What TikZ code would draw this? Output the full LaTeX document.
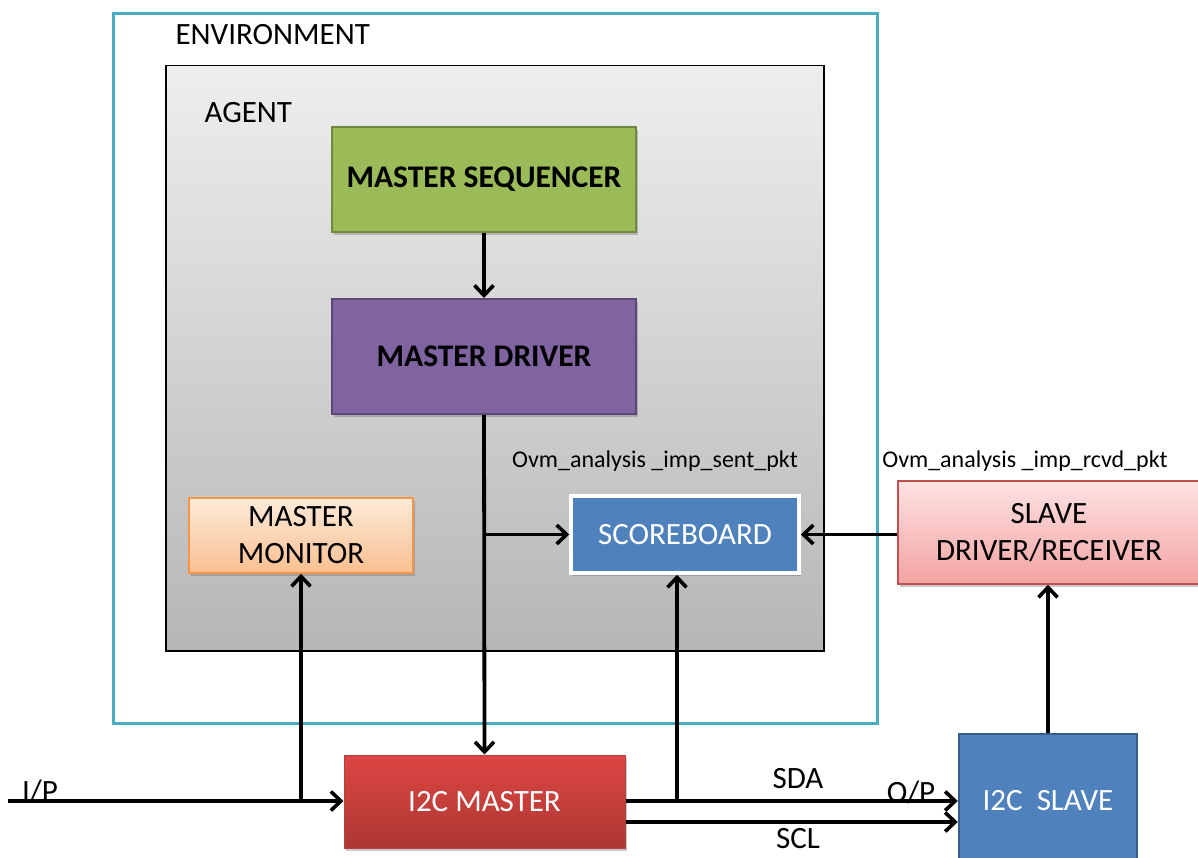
\documentclass[tikz,border=0pt]{standalone}
\usepackage{fontspec}
\setmainfont{Carlito}
\usetikzlibrary{arrows.meta,shadows}

\definecolor{envcyan}{HTML}{4BACC6}
\definecolor{agenttop}{HTML}{EEEEEE}
\definecolor{agentbot}{HTML}{B6B6B6}
\definecolor{seqfill}{HTML}{9BBB59}
\definecolor{seqline}{HTML}{71893E}
\definecolor{drvfill}{HTML}{8064A2}
\definecolor{drvline}{HTML}{5C4776}
\definecolor{montop}{HTML}{FDEADA}
\definecolor{monbot}{HTML}{FAC090}
\definecolor{monline}{HTML}{F79646}
\definecolor{sbfill}{HTML}{4F81BD}
\definecolor{slvtop}{HTML}{FEE2E2}
\definecolor{slvbot}{HTML}{F3A3A3}
\definecolor{slvline}{HTML}{C0504D}
\definecolor{mtop}{HTML}{DC4642}
\definecolor{mbot}{HTML}{AE3733}
\definecolor{mline}{HTML}{B0413E}
\definecolor{s2cline}{HTML}{385D8A}

\tikzset{
  bigtext/.style={font=\fontsize{31}{37}\selectfont},
  boldtext/.style={font=\bfseries\fontsize{31.5}{37}\selectfont},
  smalltext/.style={font=\fontsize{24}{28}\selectfont},
  blockbox/.style={rectangle, inner sep=0pt, align=center},
  shade/.style={drop shadow={shadow xshift=2pt, shadow yshift=-3pt, opacity=0.35, fill=black!60}},
  wire/.style={line width=3.8pt, draw=black},
  arrowed/.style={wire, -{Straight Barb[length=10pt,width=19pt,line width=3.6pt]}},
}

\begin{document}
\begin{tikzpicture}[x=1pt,y=-1pt]
\useasboundingbox (0,0) rectangle (1198,858);

% outer environment and agent frames
\node[blockbox, draw=envcyan, line width=3pt, minimum width=764pt, minimum height=710pt, anchor=north west] (env) at (112,12) {};
\node[blockbox, draw=black, line width=1.5pt, top color=agenttop, bottom color=agentbot, minimum width=658pt, minimum height=585pt, anchor=north west] (agent) at (165,65) {};
\node[bigtext, anchor=west] (envlabel) at (172,35) {ENVIRONMENT};
\node[bigtext, anchor=west] (agentlabel) at (201,113) {AGENT};

% agent components
\node[blockbox, boldtext, fill=seqfill, draw=seqline, line width=2pt, minimum width=304pt, minimum height=105pt, shade] (seq) at (484,179.5) {MASTER SEQUENCER};
\node[blockbox, boldtext, fill=drvfill, draw=drvline, line width=2pt, minimum width=304pt, minimum height=115pt, shade] (drv) at (484,356.5) {MASTER DRIVER};
\node[blockbox, bigtext, top color=montop, bottom color=monbot, draw=monline, line width=1.5pt, minimum width=224pt, minimum height=75pt, shade] (mon) at (301,535.5) {MASTER\\MONITOR};
\node[blockbox, bigtext, text=white, fill=sbfill, draw=white, line width=3.5pt, minimum width=228pt, minimum height=77pt, shade] (sb) at (685,534.5) {SCOREBOARD};

% blocks outside the environment
\node[blockbox, bigtext, top color=slvtop, bottom color=slvbot, draw=slvline, line width=1.5pt, minimum width=302pt, minimum height=103pt, shade] (slv) at (1049,532.5) {SLAVE\\DRIVER/RECEIVER};
\node[blockbox, bigtext, text=white, top color=mtop, bottom color=mbot, draw=mline, line width=1pt, minimum width=281pt, minimum height=93pt, shade] (m2c) at (484.5,801.5) {I2C MASTER};
\node[blockbox, bigtext, text=white, fill=sbfill, draw=s2cline, line width=2.5pt, minimum width=178pt, minimum height=134pt] (s2c) at (1048,801) {I2C\ \ SLAVE};

% port labels
\node[smalltext] (sentlbl) at (655,461) {Ovm\_analysis \_imp\_sent\_pkt};
\node[smalltext] (rcvdlbl) at (1025,461) {Ovm\_analysis \_imp\_rcvd\_pkt};
\node[bigtext] (iplbl) at (40,791) {I/P};
\node[bigtext] (sdalbl) at (798,779) {SDA};
\node[bigtext] (oplbl) at (911,792) {O/P};
\node[bigtext] (scllbl) at (798,839) {SCL};

% junction points
\coordinate (ipstart) at (8,801);
\coordinate (monjoin) at (mon.south |- ipstart);
\coordinate (drvjoin) at (drv.south |- sb.west);
\coordinate (sbjoin) at (677,801);

% connectors
\draw[arrowed] (seq.south) -- (drv.north);
\draw[arrowed] (drv.south) -- (m2c.north);
\draw[arrowed] (drvjoin) -- (sb.west);
\draw[arrowed] (ipstart) -- (m2c.west |- ipstart);
\draw[arrowed] (monjoin) -- (mon.south);
\draw[arrowed] (m2c.east |- ipstart) -- (s2c.west |- ipstart);
\draw[arrowed] ([yshift=-21pt]m2c.east |- ipstart) -- ([yshift=-21pt]s2c.west |- ipstart);
\draw[arrowed] (sbjoin) -- (sbjoin |- sb.south);
\draw[arrowed] (slv.west |- sb.east) -- (sb.east);
\draw[arrowed] (s2c.north) -- (s2c.north |- slv.south);
\end{tikzpicture}
\end{document}
